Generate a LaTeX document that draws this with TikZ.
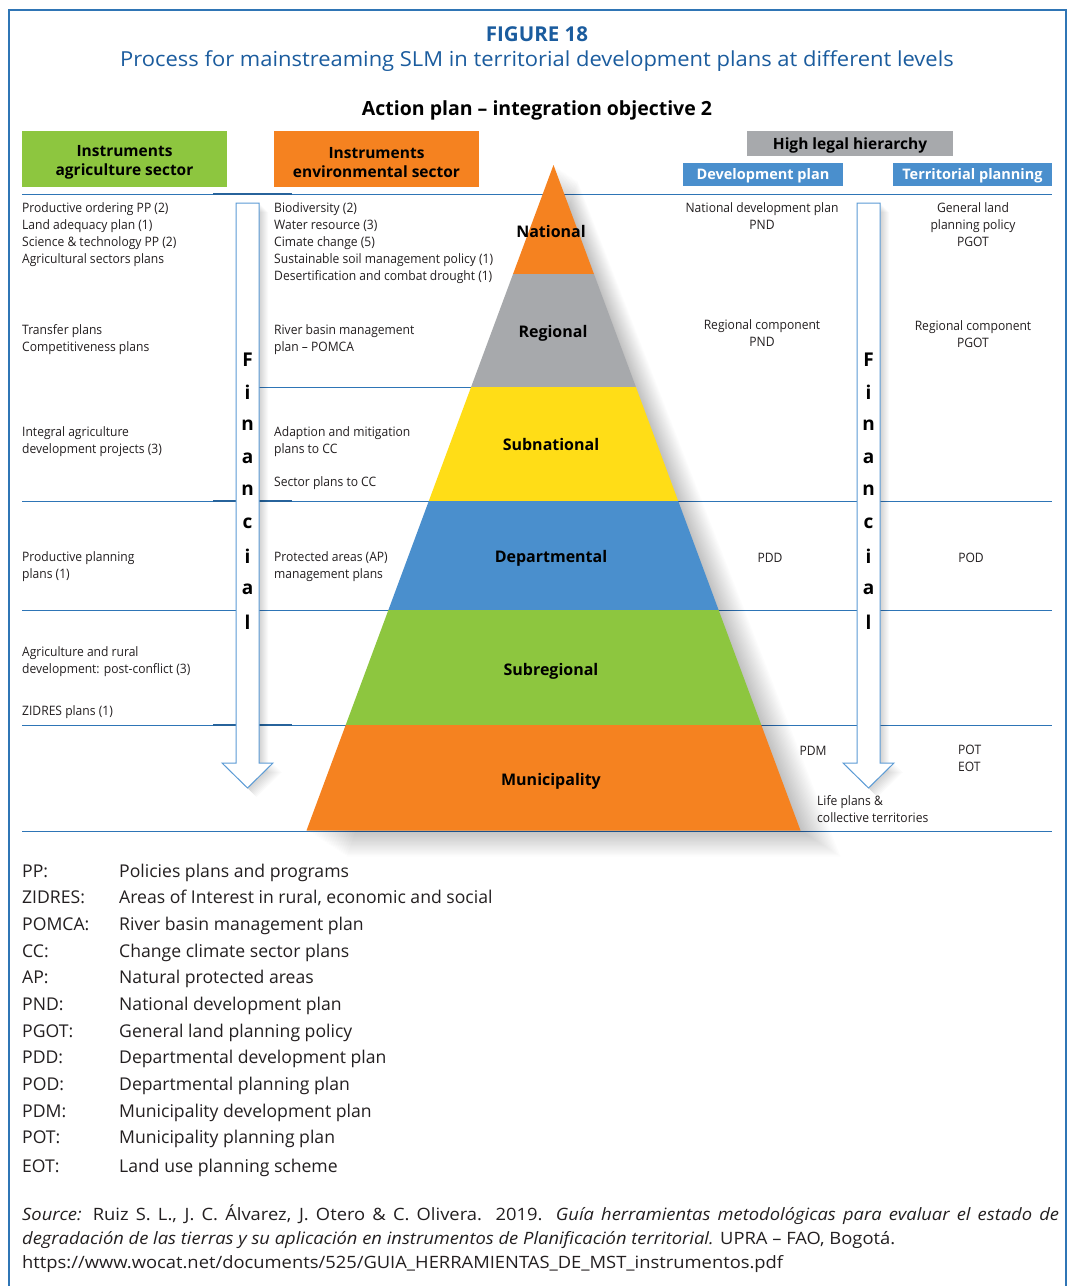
\documentclass[tikz,border=0pt]{standalone}
\usepackage{fontspec}
\setmainfont{Open Sans}
\newfontfamily\cond[FakeStretch=0.93]{Open Sans}
\newfontfamily\condsrc[FakeStretch=1.08]{Open Sans}
\newfontfamily\widettl[FakeStretch=1.06]{Open Sans}
\definecolor{frame}{HTML}{2F75B5}
\definecolor{sep}{HTML}{2E75B6}
\definecolor{ttl}{HTML}{1B5C9E}
\definecolor{orng}{HTML}{F58220}
\definecolor{gry}{HTML}{A7A9AC}
\definecolor{ylw}{HTML}{FFDD17}
\definecolor{blu}{HTML}{4A8FCD}
\definecolor{grn}{HTML}{8DC63F}
\definecolor{arr}{HTML}{5B9BD5}
\definecolor{txt}{HTML}{231F20}
\tikzset{
  sm/.style={font=\cond\fontsize{13}{17}\selectfont, text=txt, inner sep=0pt, align=left, anchor=base west},
  smc/.style={font=\cond\fontsize{13}{17}\selectfont, text=txt, inner sep=0pt, align=center, anchor=base},
  lvl/.style={font=\bfseries\fontsize{16}{18}\selectfont, text=black, inner sep=0pt},
  hdr/.style={font=\bfseries\fontsize{15.5}{19}\selectfont, text=black, inner sep=0pt, align=center},
  bhdr/.style={font=\bfseries\fontsize{14.5}{17}\selectfont, text=white, inner sep=0pt},
  fin/.style={font=\bfseries\fontsize{19}{20}\selectfont, text=black, inner sep=0pt},
  sepline/.style={draw=sep, line width=1pt},
  arrowbox/.style={draw=arr, line width=1pt, fill=white},
  leg/.style={font=\fontsize{17.6}{20}\selectfont, text=txt, inner sep=0pt, anchor=base west},
  src/.style={font=\condsrc\fontsize{17}{20}\selectfont, text=txt, inner sep=0pt, anchor=base west},
}
\begin{document}
\begin{tikzpicture}[x=1pt,y=-1pt]
\useasboundingbox (0,0) rectangle (1071,1286);
\fill[white] (0,0) rectangle (1071,1286);
% frame
\draw[frame, line width=1.5pt] (9,1286) -- (9,10) -- (1066,10) -- (1066,1286);

% titles
\node[font=\bfseries\fontsize{20.5}{24}\selectfont, text=ttl, inner sep=0pt] (fig) at (537,34) {FIGURE 18};
\node[font=\widettl\fontsize{20.7}{24}\selectfont, text=ttl, inner sep=0pt] (sub) at (537,61) {Process for mainstreaming SLM in territorial development plans at different levels};
\node[font=\bfseries\fontsize{19.5}{24}\selectfont, text=black, inner sep=0pt] (act) at (537,110) {Action plan – integration objective 2};

% header boxes
\fill[grn] (22,131) rectangle (227,187);
\node[hdr] (hagr) at (124.5,162.5) {Instruments\\agriculture sector};
\fill[orng] (274,131) rectangle (479,187);
\node[hdr] (henv) at (376.5,162.5) {Instruments\\environmental sector};
\fill[gry] (747,131) rectangle (953,156);
\node[hdr] (hhigh) at (850,145) {High legal hierarchy};
\fill[blu] (683,163) rectangle (843,186);
\node[bhdr] (hdev) at (763,176) {Development plan};
\fill[blu] (893,163) rectangle (1052,186);
\node[bhdr] (hter) at (972.5,176) {Territorial planning};

% separator lines
\draw[sepline] (22,194) -- (1052,194);
\draw[sepline] (259,387) -- (472,387);
\draw[sepline] (22,501) -- (1052,501);
\draw[sepline] (22,610) -- (1052,610);
\draw[sepline] (22,725) -- (1052,725);
\draw[sepline] (22,831) -- (1052,831);
\foreach \yy in {194,501,725} {
  \draw[sep!85!black, line width=1.8pt] (213,\yy) -- (292,\yy);
}

% pyramid shadow
\foreach \d in {2,4,...,40} {
  \fill[black, opacity=0.010] (553.5+0.6*\d,165+0.4*\d) -- (800.5+\d,830.5+0.65*\d) -- (306.5+\d,830.5+0.65*\d) -- cycle;
}
% pyramid levels
\fill[orng] (553.5,165) -- (593.95,274) -- (513.05,274) -- cycle;
\fill[gry] (513.05,274) -- (593.95,274) -- (635.9,387) -- (471.1,387) -- cycle;
\fill[ylw] (471.1,387) -- (635.9,387) -- (678.2,501) -- (428.8,501) -- cycle;
\fill[blu] (428.8,501) -- (678.2,501) -- (718.6,610) -- (388.4,610) -- cycle;
\fill[grn] (388.4,610) -- (718.6,610) -- (761.3,725) -- (345.7,725) -- cycle;
\fill[orng] (345.7,725) -- (761.3,725) -- (800.5,830.5) -- (306.5,830.5) -- cycle;

\node[lvl] (lnat) at (551,231.5) {National};
\node[lvl] (lreg) at (553,333.5) {Regional};
\node[lvl] (lsub) at (551,444.5) {Subnational};
\node[lvl] (ldep) at (551,558.5) {Departmental};
\node[lvl] (lsubr) at (551,671.5) {Subregional};
\node[lvl] (lmun) at (551,781.5) {Municipality};

% arrows with shadows
\foreach \d in {1,2,...,9} {
  \fill[black, opacity=0.018] (236+\d,203+\d) -- (259+\d,203+\d) -- (259+\d,763+\d) -- (273+\d,763+\d) -- (247.5+\d,788+\d) -- (222+\d,763+\d) -- (236+\d,763+\d) -- cycle;
  \fill[black, opacity=0.018] (857+\d,203+\d) -- (880+\d,203+\d) -- (880+\d,763+\d) -- (894+\d,763+\d) -- (868.5+\d,788+\d) -- (843+\d,763+\d) -- (857+\d,763+\d) -- cycle;
}
\draw[arrowbox] (236,203) -- (259,203) -- (259,763) -- (273,763) -- (247.5,788) -- (222,763) -- (236,763) -- cycle;
\draw[arrowbox] (857,203) -- (880,203) -- (880,763) -- (894,763) -- (868.5,788) -- (843,763) -- (857,763) -- cycle;
\foreach \ch [count=\i] in {F,i,n,a,n,c,i,a,l} {
  \node[fin] (finL\i) at (247.5,359.5+32.8*\i-32.8) {\ch};
  \node[fin] (finR\i) at (868.5,359.5+32.8*\i-32.8) {\ch};
}

% agriculture column (anchor = baseline of last line)
\node[sm] (a1) at (22,263) {Productive ordering PP (2)\\Land adequacy plan (1)\\Science \& technology PP (2)\\Agricultural sectors plans};
\node[sm] (a2) at (22,351) {Transfer plans\\Competitiveness plans};
\node[sm] (a3) at (22,453) {Integral agriculture\\development projects (3)};
\node[sm] (a4) at (22,578) {Productive planning\\plans (1)};
\node[sm] (a5) at (22,673) {Agriculture and rural\\development: post-conflict (3)};
\node[sm] (a6) at (22,715) {ZIDRES plans (1)};

% environmental column
\node[sm] (e1) at (274,280) {Biodiversity (2)\\Water resource (3)\\Cimate change (5)\\Sustainable soil management policy (1)\\Desertification and combat drought (1)};
\node[sm] (e2) at (274,351) {River basin management\\plan – POMCA};
\node[sm] (e3) at (274,453) {Adaption and mitigation\\plans to CC};
\node[sm] (e4) at (274,486) {Sector plans to CC};
\node[sm] (e5) at (274,578) {Protected areas (AP)\\management plans};

% development plan column
\node[smc] (d1) at (762,229) {National development plan\\PND};
\node[smc] (d2) at (762,346) {Regional component\\PND};
\node[smc] (d3) at (770,562) {PDD};
\node[smc] (d4) at (813,755) {PDM};
\node[sm] (d5) at (817,822) {Life plans \&\\collective territories};

% territorial planning column
\node[smc] (t1) at (973,246) {General land\\planning policy\\PGOT};
\node[smc] (t2) at (973,347) {Regional component\\PGOT};
\node[smc] (t3) at (971,562) {POD};
\node[sm] (t4) at (958,771) {POT\\EOT};

% legend
\foreach \ab/\df/\yy [count=\i] in {PP:/Policies plans and programs/871, ZIDRES:/{Areas of Interest in rural, economic and social}/897, POMCA:/River basin management plan/924, CC:/Change climate sector plans/951, AP:/Natural protected areas/977, PND:/National development plan/1004, PGOT:/General land planning policy/1031, PDD:/Departmental development plan/1057, POD:/Departmental planning plan/1084, PDM:/Municipality development plan/1111, POT:/Municipality planning plan/1137, EOT:/Land use planning scheme/1166} {
  \node[leg] (ab\i) at (22,\yy+6) {\ab};
  \node[leg] (df\i) at (119,\yy+6) {\df};
}

% source
\node[src] (s1) at (22,1220) {\makebox[1037pt][s]{\textit{Source:} Ruiz S. L., J. C. Álvarez, J. Otero \& C. Olivera. 2019. \textit{Guía herramientas metodológicas para evaluar el estado de}}};
\node[src] (s2) at (22,1244) {\textit{degradación de las tierras y su aplicación en instrumentos de Planificación territorial.} UPRA – FAO, Bogotá.};
\node[src] (s3) at (22,1268) {https://www.wocat.net/documents/525/GUIA\_HERRAMIENTAS\_DE\_MST\_instrumentos.pdf};
\end{tikzpicture}
\end{document}
